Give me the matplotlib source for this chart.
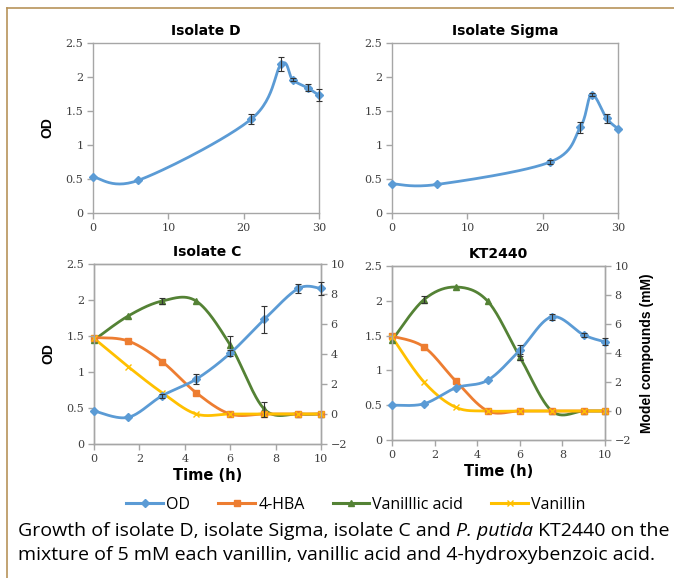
import numpy as np
import matplotlib
matplotlib.use("Agg")
import matplotlib.pyplot as plt
from matplotlib.lines import Line2D

# ---------------- data ----------------
t_long = [0, 6, 21, 25, 26.5, 28.5, 30]
od_D = [0.53, 0.48, 1.38, 2.19, 1.96, 1.84, 1.73]
err_D = [0, 0, 0.07, 0.10, 0.02, 0.05, 0.09]
od_S = [0.43, 0.42, 0.75, 1.26, 1.74, 1.39, 1.24]
err_S = [0, 0, 0.03, 0.08, 0.02, 0.07, 0]

t_short = [0, 1.5, 3, 4.5, 6, 7.5, 9, 10]
od_C = [0.46, 0.37, 0.67, 0.90, 1.26, 1.73, 2.16, 2.16]
err_C = [0, 0, 0.03, 0.07, 0.04, 0.19, 0.06, 0.09]
hba_C = [5.1, 4.87, 3.49, 1.42, 0, 0, 0, 0]
van_acid_C = [4.93, 6.53, 7.53, 7.53, 4.6, 0.33, 0, 0]
van_acid_err_C = [0, 0, 0.2, 0, 0.6, 0.5, 0, 0]
vanillin_C = [5.04, 3.16, 1.42, 0, 0, 0, 0, 0]

od_K = [0.50, 0.52, 0.75, 0.86, 1.29, 1.77, 1.51, 1.41]
err_K = [0, 0, 0, 0, 0.08, 0.04, 0.03, 0.05]
hba_K = [5.16, 4.42, 2.06, 0, 0, 0, 0, 0]
van_acid_K = [4.88, 7.68, 8.55, 7.56, 3.73, 0, 0, 0]
van_acid_err_K = [0, 0.25, 0, 0, 0.2, 0, 0, 0]
vanillin_K = [5.1, 2.0, 0.25, 0, 0, 0, 0, 0]

series_names = ["OD", "4-HBA", "Vanilllic acid", "Vanillin"]

# ---------------- style ----------------
C_OD = "#5B9BD5"
C_HBA = "#ED7D31"
C_VA = "#548235"
C_VN = "#FFC000"
SPINE = "#A6A6A6"
TICKFONT = "DejaVu Serif"
HFONT = "DejaVu Sans"        # horizontal bold titles / labels
VFONT = "Liberation Sans"    # rotated axis labels
CAPFONT = "Open Sans"

W, H = 674, 578
fig = plt.figure(figsize=(W / 100, H / 100), dpi=100)


def ax_rect(x0, x1, ytop, ybot):
    return [x0 / W, (H - ybot) / H, (x1 - x0) / W, (ybot - ytop) / H]


def smooth(x, y, n=30):
    x = np.asarray(x, float)
    y = np.asarray(y, float)
    P = np.column_stack([x, y])
    Pext = np.vstack([P[0], P, P[-1]])
    out = []
    s = np.linspace(0, 1, n)
    for i in range(len(P) - 1):
        p0, p1, p2, p3 = Pext[i], Pext[i + 1], Pext[i + 2], Pext[i + 3]
        b1 = p1 + (p2 - p0) / 6
        b2 = p2 - (p3 - p1) / 6
        seg = ((1 - s) ** 3)[:, None] * p1 + (3 * (1 - s) ** 2 * s)[:, None] * b1 \
            + (3 * (1 - s) * s ** 2)[:, None] * b2 + (s ** 3)[:, None] * p2
        out.append(seg if i == 0 else seg[1:])
    out = np.vstack(out)
    return out[:, 0], out[:, 1]


def style_axes(ax):
    for sp in ax.spines.values():
        sp.set_color(SPINE)
        sp.set_linewidth(1.0)
    ax.tick_params(direction="out", length=4, width=1, color=SPINE,
                   labelsize=8, labelcolor="#404040", pad=3)
    for lab in ax.get_xticklabels() + ax.get_yticklabels():
        lab.set_fontfamily(TICKFONT)


def plot_series(ax, x, y, color, marker, err=None, ms=5, mew=1.0, z=3):
    sx, sy = smooth(x, y)
    ax.plot(sx, sy, color=color, lw=2, zorder=z, solid_capstyle="round", clip_on=False)
    ax.plot(x, y, ls="none", marker=marker, color=color, ms=ms, mew=mew, zorder=z + 0.5,
            clip_on=False)
    if err is not None:
        e = np.asarray(err, float)
        m = e > 0
        eb = ax.errorbar(np.asarray(x)[m], np.asarray(y)[m], yerr=e[m], fmt="none",
                         ecolor="#333333", elinewidth=0.8, capsize=2.5, capthick=0.8,
                         zorder=z + 1)
        for art in list(eb.lines[1]) + list(eb.lines[2]):
            art.set_clip_on(False)


def set_title(ax, title):
    ax.set_title(title, fontsize=10, fontweight="bold", family=HFONT, pad=6)


def od_axes(rect, title, x, y, err, xlim, xticks, ylabel=True):
    ax = fig.add_axes(rect)
    plot_series(ax, x, y, C_OD, "D", err=err, ms=4.5)
    ax.set_xlim(*xlim)
    ax.set_ylim(0, 2.5)
    ax.set_xticks(xticks)
    ax.set_yticks([0, 0.5, 1, 1.5, 2, 2.5])
    ax.set_yticklabels(["0", "0.5", "1", "1.5", "2", "2.5"])
    set_title(ax, title)
    if ylabel:
        ax.set_ylabel("OD", fontsize=10, fontweight="bold", family=VFONT, labelpad=8)
    style_axes(ax)
    return ax


# top panels
od_axes(ax_rect(93, 319, 43, 213), "Isolate D", t_long, od_D, err_D, (0, 30), [0, 10, 20, 30])
od_axes(ax_rect(392, 618, 43, 213), "Isolate Sigma", t_long, od_S, err_S, (0, 30), [0, 10, 20, 30],
        ylabel=False)


def bottom_panel(rect, title, od, err, hba, va, va_err, vn, ylabel, right_label):
    ax = fig.add_axes(rect)
    ax2 = ax.twinx()
    ax.set_zorder(2)
    ax.patch.set_visible(False)
    plot_series(ax2, t_short, va, C_VA, "^", err=va_err, ms=5)
    plot_series(ax2, t_short, hba, C_HBA, "s", ms=5)
    plot_series(ax2, t_short, vn, C_VN, "x", ms=5, mew=1.0)
    plot_series(ax, t_short, od, C_OD, "D", err=err, ms=4.5)
    ax.set_xlim(0, 10)
    ax.set_ylim(0, 2.5)
    ax2.set_ylim(-2, 10)
    ax.set_xticks([0, 2, 4, 6, 8, 10])
    ax.set_yticks([0, 0.5, 1, 1.5, 2, 2.5])
    ax.set_yticklabels(["0", "0.5", "1", "1.5", "2", "2.5"])
    ax2.set_yticks([-2, 0, 2, 4, 6, 8, 10])
    set_title(ax, title)
    if ylabel:
        ax.set_ylabel("OD", fontsize=10, fontweight="bold", family=VFONT, labelpad=8)
    if right_label:
        ax2.set_ylabel("Model compounds (mM)", fontsize=10, fontweight="bold",
                       family=VFONT, labelpad=6)
    ax.set_xlabel("Time (h)", fontsize=10.5, fontweight="bold", family=HFONT, labelpad=3)
    style_axes(ax)
    style_axes(ax2)
    return ax, ax2


bottom_panel(ax_rect(94, 321, 264, 444), "Isolate C", od_C, err_C, hba_C, van_acid_C,
             van_acid_err_C, vanillin_C, True, False)
bottom_panel(ax_rect(392, 605, 266, 440), "KT2440", od_K, err_K, hba_K, van_acid_K,
             van_acid_err_K, vanillin_K, False, True)

# legend
handles = [
    Line2D([], [], color=C_OD, lw=2.2, marker="D", ms=4.5),
    Line2D([], [], color=C_HBA, lw=2.2, marker="s", ms=5),
    Line2D([], [], color=C_VA, lw=2.2, marker="^", ms=5),
    Line2D([], [], color=C_VN, lw=2.2, marker="x", ms=5),
]
fig.legend(handles, series_names, loc="center", bbox_to_anchor=(356 / W, 1 - 505 / H),
           ncol=4, frameon=False, prop={"family": CAPFONT, "size": 11.5},
           handlelength=2.3, handletextpad=0.2, columnspacing=1.75, borderpad=0)

# caption (with italic species name)
fig.canvas.draw()
renderer = fig.canvas.get_renderer()
cap_size = 14
x_px = 18
y1 = 1 - 531 / H
pieces = [("Growth of isolate D, isolate Sigma, isolate C and ", "normal"),
          ("P. putida", "italic"),
          (" KT2440 on the", "normal")]
for txt, style in pieces:
    t = fig.text(x_px / W, y1, txt, fontsize=cap_size, family=CAPFONT, style=style,
                 va="center", ha="left")
    bb = t.get_window_extent(renderer=renderer)
    x_px += bb.width
fig.text(18 / W, 1 - 555 / H,
         "mixture of 5 mM each vanillin, vanillic acid and 4-hydroxybenzoic acid.",
         fontsize=cap_size, family=CAPFONT, va="center", ha="left")

# border lines (top and left)
BORDER = "#B8935A"
fig.add_artist(Line2D([7 / W, 1], [1 - 8 / H, 1 - 8 / H], color=BORDER, lw=1.2,
                      transform=fig.transFigure))
fig.add_artist(Line2D([7 / W, 7 / W], [0, 1 - 8 / H], color=BORDER, lw=1.2,
                      transform=fig.transFigure))

fig.savefig("out.png", dpi=100)
